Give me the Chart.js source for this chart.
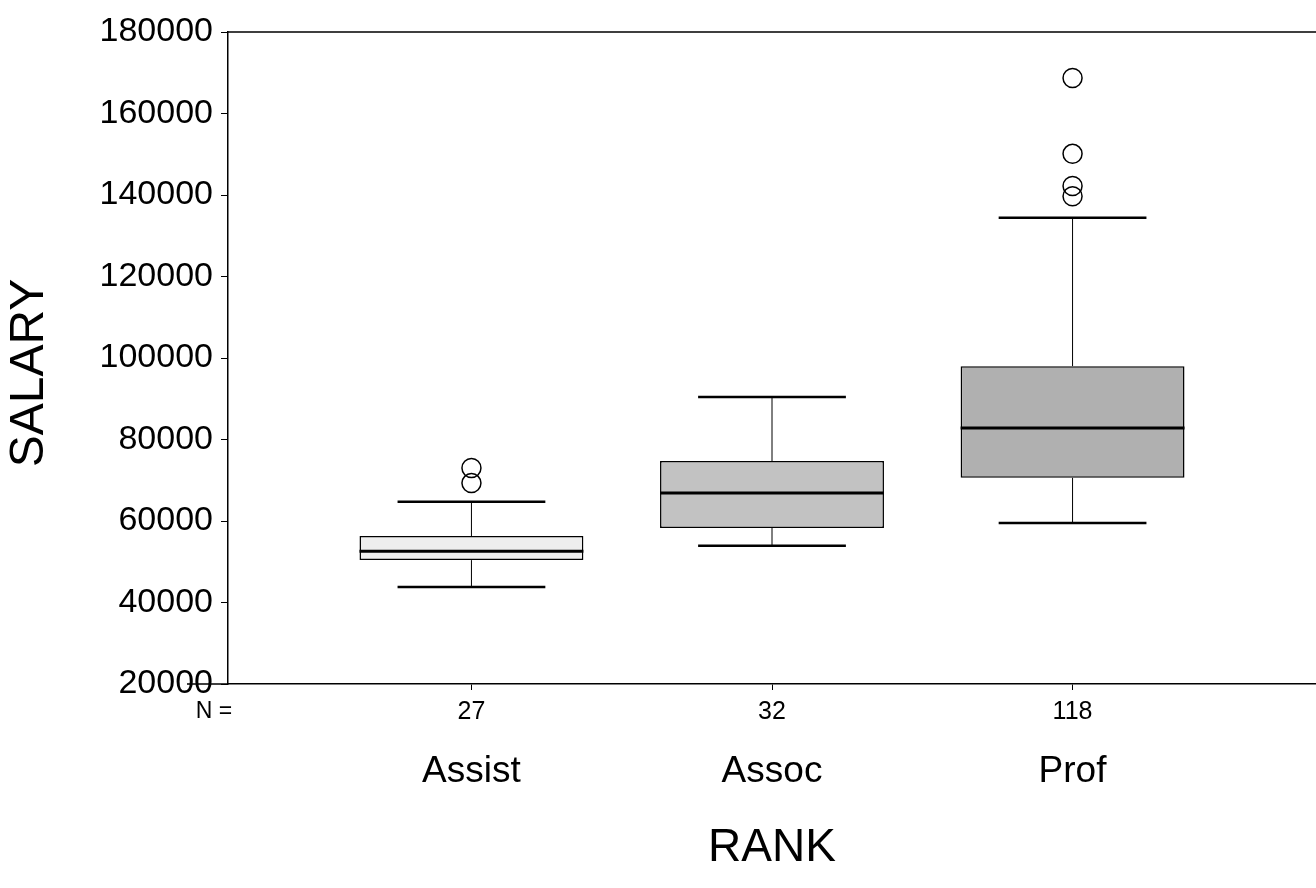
<!DOCTYPE html>
<html>
<head>
<meta charset="utf-8">
<title>SALARY by RANK</title>
<script src="https://cdn.jsdelivr.net/npm/chart.js@4.4.1/dist/chart.umd.min.js"></script>
<style>
    html, body { margin: 0; padding: 0; background: #ffffff; overflow: hidden; }
    #wrap { width: 1316px; height: 888px; position: relative; }
</style>
</head>
<body>
<div id="wrap"><canvas id="boxChart"></canvas></div>
<script>
/* ===============================
   DATA
=============================== */

const RANKS = ["Assist", "Assoc", "Prof"];
const COUNTS = ["27", "32", "118"];
const RANK_POS = [1, 2, 3];

const WHISKER_LOW = [43800, 53900, 59500];
const Q1 = [50400, 58300, 70600];
const MEDIAN = [52600, 66900, 82800];
const Q3 = [56300, 74700, 98000];
const WHISKER_HIGH = [64700, 90400, 134400];

const OUTLIER_RANK = [1, 1, 3, 3, 3, 3];
const OUTLIER_SALARY = [73000, 69300, 168700, 150100, 142200, 139700];

const Y_TICKS = [20000, 40000, 60000, 80000, 100000, 120000, 140000, 160000, 180000];

const BOX_COLORS = ["#eeeeee", "#c2c2c2", "#b0b0b0"];

const FONT = "'Liberation Sans', Arial, sans-serif";

/* ===============================
   BOX PLOT PIECES
=============================== */

const boxPlugin = {

    id: "boxWhiskers",

    beforeDatasetsDraw(chart) {

        const ctx = chart.ctx;
        const y = chart.scales.y;
        const x = chart.scales.x;

        ctx.save();
        ctx.strokeStyle = "#000";
        ctx.lineWidth = 1;

        RANK_POS.forEach((p, i) => {

            const px = x.getPixelForValue(p);

            ctx.beginPath();
            ctx.moveTo(px, y.getPixelForValue(Q3[i]));
            ctx.lineTo(px, y.getPixelForValue(WHISKER_HIGH[i]));
            ctx.moveTo(px, y.getPixelForValue(Q1[i]));
            ctx.lineTo(px, y.getPixelForValue(WHISKER_LOW[i]));
            ctx.stroke();

        });

        ctx.restore();

    },

    afterDatasetsDraw(chart) {

        const ctx = chart.ctx;
        const y = chart.scales.y;
        const bars = chart.getDatasetMeta(0).data;

        ctx.save();
        ctx.strokeStyle = "#000";

        bars.forEach((bar, i) => {

            const half = bar.width / 2;
            const cap = bar.width * 0.33;

            ctx.lineWidth = 2.5;
            ctx.beginPath();
            ctx.moveTo(bar.x - cap, y.getPixelForValue(WHISKER_HIGH[i]));
            ctx.lineTo(bar.x + cap, y.getPixelForValue(WHISKER_HIGH[i]));
            ctx.moveTo(bar.x - cap, y.getPixelForValue(WHISKER_LOW[i]));
            ctx.lineTo(bar.x + cap, y.getPixelForValue(WHISKER_LOW[i]));
            ctx.stroke();

            ctx.lineWidth = 3;
            ctx.beginPath();
            ctx.moveTo(bar.x - half, y.getPixelForValue(MEDIAN[i]));
            ctx.lineTo(bar.x + half, y.getPixelForValue(MEDIAN[i]));
            ctx.stroke();

        });

        ctx.restore();

    },

    afterDraw(chart) {

        const ctx = chart.ctx;
        const area = chart.chartArea;

        ctx.save();
        ctx.strokeStyle = "#000";
        ctx.lineWidth = 1.5;

        // frame line on top and the axis stub left of the y axis
        ctx.beginPath();
        ctx.moveTo(area.left, area.top);
        ctx.lineTo(area.right, area.top);
        ctx.moveTo(area.left - 41, area.bottom);
        ctx.lineTo(area.left, area.bottom);
        ctx.stroke();

        ctx.fillStyle = "#000";
        ctx.textAlign = "center";
        ctx.textBaseline = "middle";

        ctx.font = "23px " + FONT;
        ctx.fillText("N =", area.left - 14, area.bottom + 28);

        // y title, sitting a little below the middle as in the original
        ctx.translate(30, (area.top + area.bottom) / 2 + 15);
        ctx.rotate(-Math.PI / 2);
        ctx.font = "48px " + FONT;
        ctx.fillText("SALARY", 0, 0);

        ctx.restore();

    }

};

/* ===============================
   CHART
=============================== */

function buildChart() {

    const canvas = document.getElementById("boxChart");

    const boxes = RANK_POS.map((p, i) => ({ x: p, y: [Q1[i], Q3[i]] }));

    const outliers = OUTLIER_RANK.map((p, i) => ({ x: p, y: OUTLIER_SALARY[i] }));

    const fixedTicks = values => scale => {
        scale.ticks = values.map(v => ({ value: v }));
    };

    const bottomFit = height => scale => {
        scale.height = height;
        scale.paddingLeft = 0;
        scale.paddingRight = 0;
    };

    new Chart(canvas, {

        type: "bar",

        data: {

            datasets: [

                {
                    type: "bar",
                    data: boxes,
                    backgroundColor: BOX_COLORS,
                    borderColor: "#000",
                    borderWidth: 1.5,
                    borderSkipped: false,
                    categoryPercentage: 1,
                    barPercentage: 0.745
                },

                {
                    type: "scatter",
                    data: outliers,
                    pointStyle: "circle",
                    pointRadius: 9.5,
                    backgroundColor: "rgba(0,0,0,0)",
                    borderColor: "#000",
                    borderWidth: 1.5
                }

            ]

        },

        options: {

            responsive: true,
            maintainAspectRatio: false,
            animation: false,

            // the plot runs right up to the edge of the page in the original
            layout: {
                autoPadding: false,
                padding: { left: 0, right: 0, top: 32, bottom: 0 }
            },

            plugins: {
                legend: { display: false },
                tooltip: { enabled: false }
            },

            scales: {

                x: {
                    type: "linear",
                    position: "bottom",
                    weight: 0,
                    offset: false,
                    min: 0.19,
                    max: 3.81,
                    afterBuildTicks: fixedTicks(RANK_POS),
                    afterFit: bottomFit(50),
                    border: { color: "#000", width: 1.5 },
                    grid: {
                        offset: false,
                        drawOnChartArea: false,
                        tickLength: 6,
                        tickColor: "#000"
                    },
                    ticks: {
                        color: "#000",
                        padding: 7,
                        maxRotation: 0,
                        autoSkip: false,
                        font: { family: FONT, size: 25 },
                        callback: v => COUNTS[RANK_POS.indexOf(v)]
                    }
                },

                x2: {
                    type: "linear",
                    position: "bottom",
                    weight: 1,
                    offset: false,
                    min: 0.19,
                    max: 3.81,
                    afterBuildTicks: fixedTicks(RANK_POS),
                    afterFit: bottomFit(154),
                    border: { display: false },
                    grid: { display: false, offset: false },
                    ticks: {
                        color: "#000",
                        padding: 8,
                        maxRotation: 0,
                        autoSkip: false,
                        font: { family: FONT, size: 37 },
                        callback: v => RANKS[RANK_POS.indexOf(v)]
                    },
                    title: {
                        display: true,
                        text: "RANK",
                        color: "#000",
                        font: { family: FONT, size: 46 },
                        padding: { top: 0, bottom: 12 }
                    }
                },

                y: {
                    min: 20000,
                    max: 180000,
                    afterBuildTicks: fixedTicks(Y_TICKS),
                    afterFit: scale => { scale.width = 228; },
                    border: { color: "#000", width: 1.5 },
                    grid: {
                        drawOnChartArea: false,
                        tickLength: 7,
                        tickColor: "#000"
                    },
                    ticks: {
                        color: "#000",
                        padding: 8,
                        font: { family: FONT, size: 34 },
                        callback: v => String(v)
                    }
                }

            }

        },

        plugins: [boxPlugin]

    });

}

document.addEventListener("DOMContentLoaded", buildChart);
</script>
</body>
</html>
